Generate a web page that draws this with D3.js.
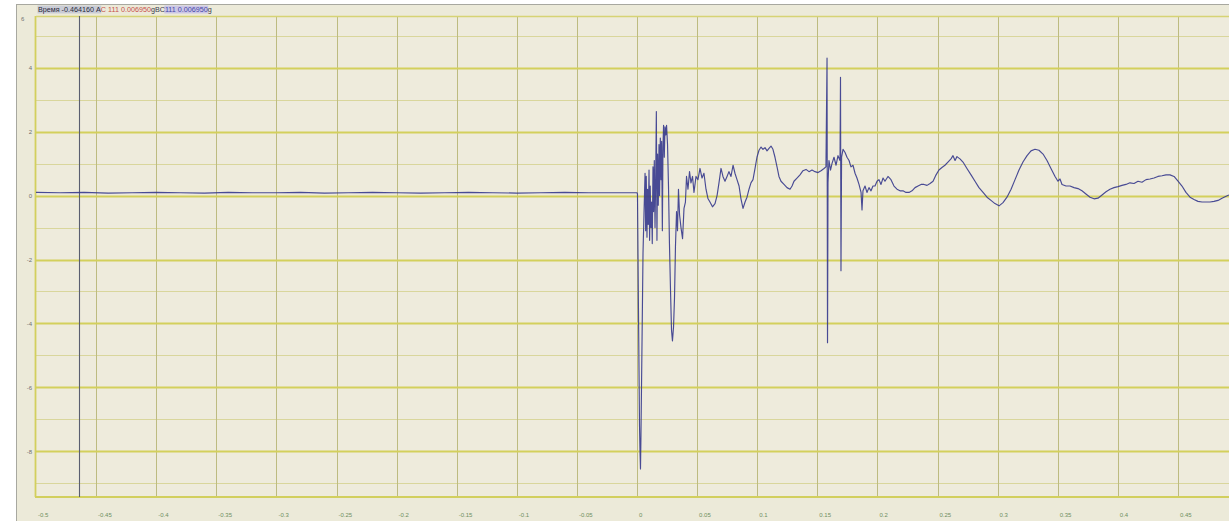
<!DOCTYPE html>
<html>
<head>
<meta charset="utf-8">
<script src="https://cdn.jsdelivr.net/npm/d3@7/dist/d3.min.js"></script>
<style>
  html, body { margin: 0; padding: 0; background: #ffffff; }
  svg { display: block; }
</style>
</head>
<body>
<svg id="chart" width="1229" height="521"></svg>
<script>
// Time axis (s) and tick labels
const xTicks = [-0.5, -0.45, -0.4, -0.35, -0.3, -0.25, -0.2, -0.15, -0.1, -0.05, 0, 0.05, 0.1, 0.15, 0.2, 0.25, 0.3, 0.35, 0.4, 0.45];
const xTickLabels = ["-0.5", "-0.45", "-0.4", "-0.35", "-0.3", "-0.25", "-0.2", "-0.15", "-0.1", "-0.05", "0", "0.05", "0.1", "0.15", "0.2", "0.25", "0.3", "0.35", "0.4", "0.45"];
// Acceleration axis (g)
const yMajor = [4, 2, 0, -2, -4, -6, -8];
const yMajorLabels = ["4", "2", "0", "-2", "-4", "-6", "-8"];
const yTopLabel = "6";
const yMinor = [5, 3, 1, -1, -3, -5, -7, -9];
const cursorTime = -0.46416;
const headerParts = ["Время -0.464160 A", "C 111 0.006950", " gBC ", "111 0.006950", " g"];

// Pre-trigger record
const preT = [-0.5, -0.48, -0.46, -0.44, -0.42, -0.4, -0.38, -0.36, -0.34, -0.32, -0.3, -0.28, -0.26, -0.24, -0.22, -0.2, -0.18, -0.16, -0.14, -0.12, -0.1, -0.08, -0.06, -0.04, -0.02, 0];
const preV = [0.1, 0.09, 0.1, 0.08, 0.09, 0.1, 0.09, 0.08, 0.1, 0.09, 0.09, 0.1, 0.08, 0.09, 0.1, 0.09, 0.08, 0.09, 0.1, 0.09, 0.08, 0.09, 0.1, 0.09, 0.09, 0.09];

// Event record
const evT = [0.0004, 0.0012, 0.0021, 0.0025, 0.0029, 0.0033, 0.0042, 0.005, 0.0058, 0.0067, 0.0072, 0.0077, 0.0083, 0.0088, 0.0094, 0.01, 0.0105, 0.011, 0.0116, 0.0122, 0.0127, 0.0133, 0.0138, 0.0144, 0.015, 0.0155, 0.0161, 0.0166, 0.0171, 0.0177, 0.0183, 0.0188, 0.0194, 0.02, 0.0205, 0.0211, 0.0216, 0.0221, 0.0227, 0.0233, 0.024, 0.0246, 0.0254, 0.0262, 0.027, 0.0279, 0.0287, 0.0295, 0.0304, 0.0312, 0.032, 0.0329, 0.0337, 0.0345, 0.0354, 0.0366, 0.0379, 0.0391, 0.0403, 0.0412, 0.0424, 0.0437, 0.0449, 0.0462, 0.0474, 0.0491, 0.0507, 0.0524, 0.0541, 0.0557, 0.0574, 0.0591, 0.0607, 0.0628, 0.0649, 0.0666, 0.0682, 0.0699, 0.0715, 0.0732, 0.0749, 0.0765, 0.0782, 0.0799, 0.0815, 0.0832, 0.0849, 0.0865, 0.0882, 0.0899, 0.0915, 0.0932, 0.0948, 0.0965, 0.0982, 0.0998, 0.1015, 0.1032, 0.1048, 0.1065, 0.1082, 0.1098, 0.1115, 0.1131, 0.1148, 0.1165, 0.1181, 0.1198, 0.1223, 0.1248, 0.1273, 0.129, 0.1306, 0.1331, 0.1356, 0.1381, 0.1406, 0.1431, 0.1456, 0.1481, 0.1506, 0.1531, 0.1556, 0.1572, 0.1581, 0.1585, 0.1589, 0.1597, 0.161, 0.1622, 0.1639, 0.1656, 0.1672, 0.1689, 0.1693, 0.1697, 0.1702, 0.1714, 0.1731, 0.1747, 0.1764, 0.178, 0.1797, 0.1814, 0.183, 0.1847, 0.1864, 0.1872, 0.188, 0.1897, 0.1913, 0.193, 0.1947, 0.1963, 0.198, 0.1997, 0.2013, 0.203, 0.2047, 0.2063, 0.2088, 0.2113, 0.2138, 0.2163, 0.2188, 0.2213, 0.2238, 0.2263, 0.2288, 0.2313, 0.2338, 0.2363, 0.2388, 0.2413, 0.2438, 0.2463, 0.2488, 0.2512, 0.2537, 0.2562, 0.2587, 0.2612, 0.2629, 0.2646, 0.2662, 0.2687, 0.2712, 0.2745, 0.2779, 0.2812, 0.2845, 0.2879, 0.2912, 0.2945, 0.2978, 0.3012, 0.3045, 0.3078, 0.3112, 0.3145, 0.3178, 0.3211, 0.3245, 0.3278, 0.3311, 0.3344, 0.3378, 0.3411, 0.3444, 0.3478, 0.3502, 0.3519, 0.3536, 0.3569, 0.3602, 0.3636, 0.3669, 0.3702, 0.3735, 0.3769, 0.3802, 0.3835, 0.3869, 0.3902, 0.3935, 0.3968, 0.4002, 0.4035, 0.4068, 0.4101, 0.4135, 0.4168, 0.4201, 0.4235, 0.4268, 0.4301, 0.4334, 0.4368, 0.4401, 0.4434, 0.4468, 0.4501, 0.4534, 0.4567, 0.4601, 0.4634, 0.4667, 0.4701, 0.4734, 0.4767, 0.48, 0.4834, 0.4867, 0.4901, 0.4925];
const evV = [0.05, -3.5, -7.2, -8.0, -8.55, -7.5, -4.5, -1.8, -0.6, 0.7, -1.1, 0.6, -1.3, 0.2, -0.9, 0.8, -1.4, 0.3, -1.0, -0.2, -1.5, 0.9, -0.5, 1.1, -1.0, 0.4, 2.63, -1.4, 1.3, -0.3, 1.6, 0.0, 1.8, 0.5, 1.7, -1.1, 1.5, 2.2, 1.2, 2.15, 1.9, 2.2, 1.6, 0.3, -1.5, -3.0, -4.2, -4.55, -4.1, -3.2, -1.6, -0.5, -1.1, 0.2, -0.6, -1.0, -1.35, -0.4, -0.2, 0.6, 0.2, 0.75, 0.4, 0.6, 0.1, 0.6, 0.5, 0.85, 0.55, 0.7, 0.2, -0.1, -0.2, -0.35, -0.25, 0.0, 0.4, 0.85, 0.6, 0.45, 0.6, 0.75, 0.6, 0.95, 0.7, 0.5, 0.3, -0.1, -0.4, -0.2, -0.05, 0.2, 0.4, 0.5, 0.85, 1.2, 1.42, 1.52, 1.45, 1.5, 1.4, 1.48, 1.55, 1.45, 1.2, 0.9, 0.6, 0.45, 0.35, 0.25, 0.2, 0.3, 0.45, 0.55, 0.65, 0.78, 0.82, 0.75, 0.8, 0.75, 0.72, 0.78, 0.85, 0.9, 4.3, -4.6, 0.4, 1.1, 0.8, 1.0, 1.2, 0.95, 1.25, 1.1, 3.7, -2.35, 1.2, 1.45, 1.35, 1.2, 1.1, 0.9, 0.95, 0.7, 0.55, 0.35, 0.1, -0.45, 0.15, 0.3, 0.1, 0.25, 0.15, 0.3, 0.3, 0.45, 0.5, 0.35, 0.55, 0.45, 0.6, 0.5, 0.3, 0.2, 0.15, 0.15, 0.1, 0.1, 0.15, 0.25, 0.3, 0.35, 0.35, 0.32, 0.38, 0.45, 0.65, 0.8, 0.88, 0.95, 1.05, 1.15, 1.25, 1.1, 1.22, 1.15, 1.05, 0.85, 0.65, 0.45, 0.25, 0.1, -0.05, -0.15, -0.25, -0.32, -0.22, -0.05, 0.2, 0.5, 0.8, 1.05, 1.25, 1.4, 1.45, 1.42, 1.3, 1.1, 0.85, 0.6, 0.45, 0.52, 0.35, 0.3, 0.3, 0.25, 0.22, 0.15, 0.05, -0.05, -0.1, -0.08, 0.02, 0.12, 0.2, 0.25, 0.28, 0.32, 0.35, 0.4, 0.38, 0.45, 0.42, 0.5, 0.52, 0.55, 0.6, 0.62, 0.65, 0.65, 0.6, 0.45, 0.3, 0.1, -0.05, -0.12, -0.18, -0.2, -0.2, -0.2, -0.18, -0.15, -0.08, -0.02, 0.02];

const W = 1229, H = 521;
const plot = { left: 36, top: 16, bottom: 497 };

const svg = d3.select("#chart");

const x = d3.scaleLinear().domain([-0.5, 0.5]).range([plot.left, plot.left + 1202]);
const y = d3.scaleLinear().domain([-9.43, 5.62]).range([plot.bottom, plot.top]);

// Window panel
svg.append("rect").attr("x", 0).attr("y", 0).attr("width", W).attr("height", H).attr("fill", "#ffffff");
svg.append("rect").attr("x", 16.5).attr("y", 4.5).attr("width", W).attr("height", H)
  .attr("fill", "#ecead9").attr("stroke", "#a8a8a0").attr("stroke-width", 1);

// Plot area
svg.append("rect").attr("x", plot.left).attr("y", plot.top)
  .attr("width", W - plot.left + 5).attr("height", plot.bottom - plot.top)
  .attr("fill", "#eeebdc");

svg.append("defs").append("clipPath").attr("id", "plotClip")
  .append("rect").attr("x", plot.left).attr("y", plot.top)
  .attr("width", W - plot.left).attr("height", plot.bottom - plot.top);

const grid = svg.append("g");

// Minor horizontal grid
grid.selectAll("line.hmin").data(yMinor).join("line")
  .attr("x1", plot.left).attr("x2", W)
  .attr("y1", d => Math.round(y(d)) + 0.5).attr("y2", d => Math.round(y(d)) + 0.5)
  .attr("stroke", "#d9d69c").attr("stroke-width", 1);

// Vertical grid
grid.selectAll("line.v").data(xTicks.slice(1)).join("line")
  .attr("x1", d => Math.round(x(d)) + 0.5).attr("x2", d => Math.round(x(d)) + 0.5)
  .attr("y1", plot.top).attr("y2", plot.bottom)
  .attr("stroke", "#bdbb80").attr("stroke-width", 1);

// Major horizontal grid
grid.selectAll("line.hmaj").data(yMajor).join("line")
  .attr("x1", plot.left).attr("x2", W)
  .attr("y1", d => Math.round(y(d)) + 0.5).attr("y2", d => Math.round(y(d)) + 0.5)
  .attr("stroke", "#d3d05c").attr("stroke-width", 2);

// Plot frame
svg.append("line").attr("x1", plot.left - 0.5).attr("x2", plot.left - 0.5)
  .attr("y1", plot.top).attr("y2", plot.bottom).attr("stroke", "#d2cf5e").attr("stroke-width", 1.8);
svg.append("line").attr("x1", plot.left).attr("x2", W)
  .attr("y1", plot.top + 0.5).attr("y2", plot.top + 0.5).attr("stroke", "#d6d374").attr("stroke-width", 1.3);
svg.append("line").attr("x1", plot.left - 1).attr("x2", W)
  .attr("y1", plot.bottom).attr("y2", plot.bottom).attr("stroke", "#d2cf5e").attr("stroke-width", 2.2);

// Cursor
svg.append("line")
  .attr("x1", Math.round(x(cursorTime)) + 0.5).attr("x2", Math.round(x(cursorTime)) + 0.5)
  .attr("y1", plot.top).attr("y2", plot.bottom)
  .attr("stroke", "#5a5e70").attr("stroke-width", 1.1);

// Axes (labels only)
const xAxis = d3.axisBottom(x).tickValues(xTicks)
  .tickFormat((d, i) => xTickLabels[i]).tickSize(0).tickPadding(0);
const gx = svg.append("g").attr("transform", `translate(0, ${plot.bottom + 20})`).call(xAxis);
gx.select(".domain").remove();
gx.selectAll("text")
  .attr("text-anchor", "start").attr("dx", 1.5).attr("dy", 0).attr("y", 0)
  .attr("fill", "#6f8f62").attr("font-family", "Liberation Sans, Arial, sans-serif").attr("font-size", 6);

const yAxis = d3.axisLeft(y).tickValues(yMajor)
  .tickFormat((d, i) => yMajorLabels[i]).tickSize(0).tickPadding(0);
const gy = svg.append("g").attr("transform", `translate(${plot.left - 4}, 0)`).call(yAxis);
gy.select(".domain").remove();
gy.selectAll("text")
  .attr("fill", "#707070").attr("font-family", "Liberation Sans, Arial, sans-serif").attr("font-size", 6);

svg.append("text").attr("x", 21).attr("y", 21).text(yTopLabel)
  .attr("fill", "#707070").attr("font-family", "Liberation Sans, Arial, sans-serif").attr("font-size", 6);

// Signal trace
const pts = preT.map((t, i) => [t, preV[i]]).concat(evT.map((t, i) => [t, evV[i]]));
const line = d3.line().x(d => x(d[0])).y(d => y(d[1]));
svg.append("path").datum(pts)
  .attr("clip-path", "url(#plotClip)")
  .attr("d", line)
  .attr("fill", "none")
  .attr("stroke", "#35388c")
  .attr("stroke-width", 1.15)
  .attr("stroke-linejoin", "round")
  .attr("opacity", 0.9);

// Header readout
const header = svg.append("g").attr("font-family", "Liberation Sans, Arial, sans-serif").attr("font-size", 7.2);
const partColors = ["#2a2a3a", "#c8504a", "#3a3a50", "#4646a6", "#3a3a50"];
const partBg = ["#c9ccd6", "none", "none", "#cbc6e6", "none"];
let cx = 38;
headerParts.forEach((s, i) => {
  const t = header.append("text").attr("x", cx).attr("y", 11.5).attr("fill", partColors[i]).text(s);
  const w = t.node().getComputedTextLength();
  if (partBg[i] !== "none") {
    header.insert("rect", "text").attr("x", cx - 0.5).attr("y", 5.5).attr("width", w + 1).attr("height", 8)
      .attr("fill", partBg[i]);
  }
  cx += w;
});
</script>
</body>
</html>
